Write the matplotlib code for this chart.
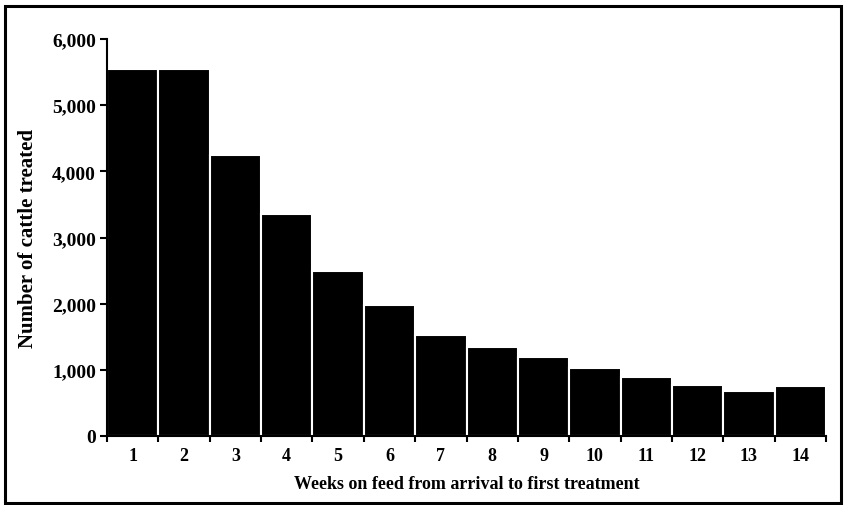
import matplotlib
matplotlib.use("Agg")
import matplotlib.pyplot as plt
from matplotlib.patches import Rectangle
import numpy as np

weeks = [str(i) for i in range(1, 15)]
cattle_treated = [5540, 5540, 4240, 3350, 2490, 1980, 1520, 1350, 1190, 1030, 890, 775, 680, 755]
y_ticks = [0, 1000, 2000, 3000, 4000, 5000, 6000]
y_tick_labels = ["0", "1,000", "2,000", "3,000", "4,000", "5,000", "6,000"]

plt.rcParams['font.family'] = ['Liberation Serif', 'DejaVu Serif']
plt.rcParams['font.weight'] = 'bold'

fig = plt.figure(figsize=(8.46, 5.06), dpi=100)
ax = fig.add_axes([107/846, 69/506, (826-107)/846, (437-40)/506])

x = np.arange(1, len(weeks) + 1)
ax.bar(x, cattle_treated, width=1.0, color='black', edgecolor='white', linewidth=1.5)

ax.set_xlim(0.5, len(weeks) + 0.5)
ax.set_ylim(0, 6000)

ax.set_yticks(y_ticks)
ax.set_yticklabels(y_tick_labels, fontsize=14, fontweight='bold')
ax.tick_params(axis='y', direction='out', length=5, width=1.5, pad=3)

ax.set_xticks(np.arange(0.5, len(weeks) + 1, 1.0))
ax.set_xticklabels([])
ax.tick_params(axis='x', which='major', direction='out', length=4, width=1.5)
ax.set_xticks(x, minor=True)
ax.set_xticklabels(weeks, minor=True, fontsize=13, fontweight='bold')
ax.tick_params(axis='x', which='minor', length=0, pad=8)

for s in ['top', 'right']:
    ax.spines[s].set_visible(False)
for s in ['left', 'bottom']:
    ax.spines[s].set_linewidth(1.5)

ax.set_xlabel("Weeks on feed from arrival to first treatment", fontsize=13, fontweight='bold', labelpad=8)
ax.set_ylabel("Number of cattle treated", fontsize=15, fontweight='bold', labelpad=10)

fig.patches.append(Rectangle((5/846, 2/506), (841-5)/846, (499-2)/506, transform=fig.transFigure,
                             fill=False, edgecolor='black', linewidth=2.2))

fig.savefig("out.png", dpi=100)
